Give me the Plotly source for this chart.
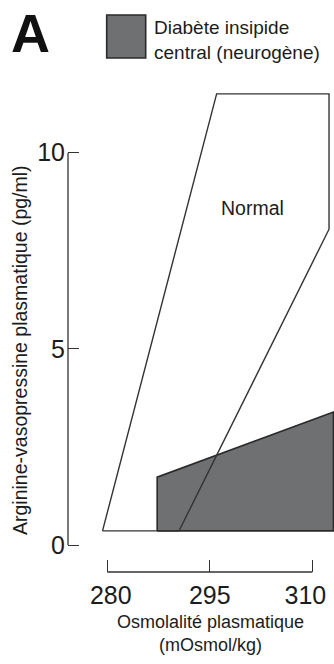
import plotly.graph_objects as go

# ---- data ----
x_ticks = [280, 295, 310]
x_tick_labels = ["\u00a0280", "295", "310\u00a0\u00a0"]
y_ticks = [0, 5, 10]
y_tick_labels = ["0", "5", "10"]

normal_x = [279.3, 296.0, 312.45, 312.45, 290.5, 279.3]
normal_y = [0.36, 11.5, 11.5, 8.05, 0.36, 0.36]

di_x = [287.3, 287.3, 313.1, 313.1, 287.3]
di_y = [0.36, 1.73, 3.39, 0.36, 0.36]

normal_label = "Normal"
normal_label_pos = (301.2, 8.6)
legend_label = "Diabète insipide<br>central (neurogène)"
x_title = "Osmolalité plasmatique<br>(mOsmol/kg)"
y_title = "Arginine-vasopressine plasmatique (pg/ml)"
panel_label = "A"

FONT = "Liberation Sans, Arial, sans-serif"
TXT = "#1c1c1c"
LINE = "#333333"
GREY = "#6e7072"

W, H = 334, 664
ML, MR, MT, MB = 68, 0, 80, 92
PW, PH = W - ML - MR, H - MT - MB


def px(xp):
    return (xp - ML) / PW


def py(yp):
    return (H - MB - yp) / PH


fig = go.Figure()

fig.add_trace(go.Scatter(
    x=di_x, y=di_y, mode="lines", fill="toself", fillcolor=GREY,
    line=dict(color="#2a2a2a", width=1.6), hoverinfo="skip", showlegend=False,
))
fig.add_trace(go.Scatter(
    x=normal_x, y=normal_y, mode="lines",
    line=dict(color=LINE, width=1.4), hoverinfo="skip", showlegend=False,
))

# axis lines (only over the tick span)
fig.add_shape(type="line", xref="paper", yref="y", x0=0, x1=0,
              y0=y_ticks[0], y1=y_ticks[-1], line=dict(color=LINE, width=1.3))
fig.add_shape(type="line", xref="x", yref="paper", x0=x_ticks[0], x1=x_ticks[-1],
              y0=0, y1=0, line=dict(color=LINE, width=1.3))

# legend swatch
fig.add_shape(type="rect", xref="paper", yref="paper",
              x0=px(106.7), x1=px(145.7), y0=py(58), y1=py(15),
              fillcolor=GREY, line=dict(color="#2a2a2a", width=1.6))

fig.add_annotation(text=legend_label, xref="paper", yref="paper",
                   x=px(152), y=py(40), xanchor="left", yanchor="middle",
                   align="left", showarrow=False,
                   font=dict(family=FONT, size=19, color=TXT))
fig.add_annotation(text="<b>" + panel_label + "</b>", xref="paper", yref="paper",
                   x=px(30), y=py(33), xanchor="center", yanchor="middle",
                   showarrow=False, font=dict(family=FONT, size=54, color="#111"))
fig.add_annotation(text=normal_label, x=normal_label_pos[0], y=normal_label_pos[1],
                   showarrow=False, font=dict(family=FONT, size=19.5, color=TXT))
fig.add_annotation(text=x_title, xref="paper", yref="paper",
                   x=px(210), y=py(633), xanchor="center", yanchor="middle",
                   showarrow=False, font=dict(family=FONT, size=18, color=TXT))
fig.add_annotation(text=y_title, xref="paper", yref="paper",
                   x=px(20), y=py(350), xanchor="center", yanchor="middle",
                   textangle=-90, showarrow=False,
                   font=dict(family=FONT, size=19.5, color=TXT))

fig.update_xaxes(
    range=[280 - (107.3 - ML) / 6.833, 280 + (W - MR - 107.3) / 6.833],
    tickvals=x_ticks, ticktext=x_tick_labels, ticks="inside", ticklen=12,
    tickwidth=1.3, tickcolor=LINE, showline=False, showgrid=False, zeroline=False,
    tickfont=dict(family=FONT, size=25, color=TXT), ticklabelstandoff=6,
    ticklabeloverflow="allow", fixedrange=True,
)
fig.update_yaxes(
    range=[(545 - (H - MB)) / 39.23, (545 - MT) / 39.23],
    tickvals=y_ticks, ticktext=y_tick_labels, ticks="inside", ticklen=11,
    tickwidth=1.3, tickcolor=LINE, showline=False, showgrid=False, zeroline=False,
    tickfont=dict(family=FONT, size=25, color=TXT), ticklabelstandoff=2,
    ticklabeloverflow="allow", fixedrange=True,
)

fig.update_layout(
    width=W, height=H, margin=dict(l=ML, r=MR, t=MT, b=MB, autoexpand=False),
    plot_bgcolor="white", paper_bgcolor="white", showlegend=False,
)

fig.write_html(
    "out.html", config={"displayModeBar": False},
    post_script="document.body.style.margin='0';document.body.style.overflow='hidden';",
)
